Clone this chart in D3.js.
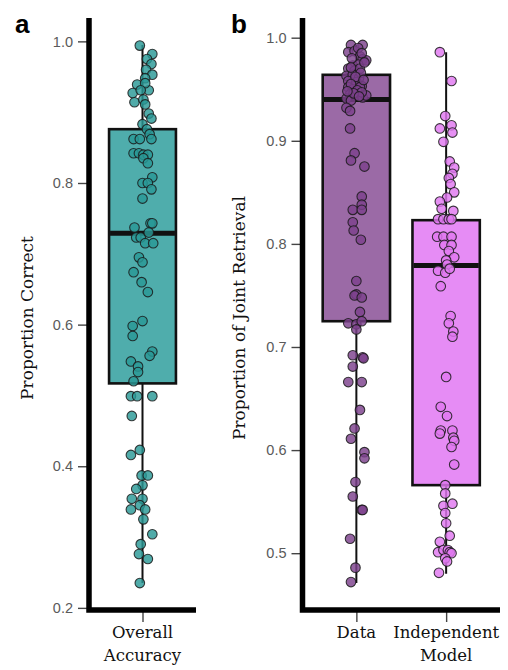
<!DOCTYPE html>
<html>
<head>
<meta charset="utf-8">
<script src="https://cdn.jsdelivr.net/npm/d3@7"></script>
<style>
  body { margin: 0; background: #fff; }
  .tick-label { font-family: "Liberation Sans", Arial, sans-serif; font-size: 14.5px; fill: #5a5a5a; }
  .cat-label { font-family: "DejaVu Serif", serif; font-size: 16.5px; fill: #111; }
  .axis-title { font-family: "DejaVu Serif", serif; font-size: 17px; fill: #111; }
  .panel-letter { font-family: "Liberation Sans", Arial, sans-serif; font-size: 26px; font-weight: bold; }
</style>
</head>
<body>
<div id="chart"></div>
<script>
// panel a: overall accuracy per participant
var accuracyCats = ["Overall\nAccuracy"];
var accuracyTicks = [0.2, 0.4, 0.6, 0.8, 1.0];
var accuracyBox = [[0.235, 0.517, 0.729, 0.876, 0.995]]; // low, q1, median, q3, high
var accuracy = [0.994, 0.982, 0.975, 0.968, 0.960, 0.953, 0.948, 0.931, 0.939, 0.941,
  0.927, 0.914, 0.931, 0.918, 0.911, 0.898, 0.891, 0.883, 0.876, 0.869,
  0.862, 0.862, 0.862, 0.842, 0.842, 0.840, 0.840, 0.835, 0.828, 0.808,
  0.800, 0.800, 0.791, 0.778, 0.737, 0.743, 0.743, 0.723, 0.723, 0.730,
  0.715, 0.715, 0.695, 0.688, 0.674, 0.660, 0.646, 0.605, 0.598, 0.584,
  0.562, 0.556, 0.548, 0.541, 0.533, 0.520, 0.499, 0.499, 0.499, 0.471,
  0.416, 0.423, 0.387, 0.387, 0.373, 0.368, 0.354, 0.354, 0.345, 0.339,
  0.339, 0.325, 0.304, 0.290, 0.276, 0.269, 0.235];
var accuracyJitter = [-0.03, 0.11, 0.05, 0.10, 0.04, 0.11, 0.03, 0.07, -0.06, 0.03,
  -0.11, -0.09, -0.02, 0.01, 0.03, 0.07, 0.10, 0.00, 0.05, 0.08,
  -0.10, -0.03, 0.10, -0.10, -0.04, 0.01, 0.06, 0.01, 0.06, 0.11,
  0.00, 0.06, 0.10, 0.00, -0.09, 0.09, 0.11, -0.07, -0.02, 0.07,
  0.03, 0.12, -0.04, 0.00, -0.10, -0.01, 0.06, 0.00, -0.11, -0.11,
  0.11, 0.08, -0.13, -0.05, -0.05, -0.10, -0.13, -0.06, 0.11, -0.12,
  -0.13, -0.03, -0.01, 0.06, 0.00, -0.07, 0.00, -0.12, -0.03, -0.13,
  0.03, 0.01, 0.11, -0.02, -0.04, 0.06, -0.03];

// panel b: proportion of joint retrieval, data vs independent model
var jointCats = ["Data", "Independent\nModel"];
var jointTicks = [0.5, 0.6, 0.7, 0.8, 0.9, 1.0];
var jointBox = [[0.471, 0.725, 0.940, 0.964, 0.993], [0.480, 0.566, 0.779, 0.823, 0.986]];
var jointData = [0.993, 0.993, 0.986, 0.987, 0.982, 0.979, 0.978, 0.973, 0.974, 0.970,
  0.968, 0.970, 0.963, 0.964, 0.961, 0.958, 0.957, 0.953, 0.952, 0.950,
  0.952, 0.945, 0.944, 0.942, 0.944, 0.941, 0.939, 0.932, 0.929,
  0.990, 0.985, 0.980, 0.976, 0.971, 0.966, 0.962, 0.959, 0.955, 0.949,
  0.947, 0.946, 0.943, 0.948,
  0.912, 0.888, 0.881, 0.875, 0.846, 0.833, 0.838, 0.833, 0.821, 0.813,
  0.804, 0.764, 0.751, 0.750, 0.748, 0.734, 0.723, 0.722, 0.725, 0.717,
  0.692, 0.690, 0.689, 0.681, 0.666, 0.666, 0.639, 0.621, 0.611, 0.598,
  0.592, 0.569, 0.555, 0.542, 0.542, 0.514, 0.486, 0.472];
var jointDataJitter = [-0.06, 0.07, -0.09, -0.02, 0.04, 0.07, 0.11, -0.04, 0.02, -0.09,
  -0.02, 0.04, -0.11, -0.04, 0.03, -0.09, 0.00, 0.06, -0.09, -0.04,
  0.04, -0.07, 0.00, 0.07, 0.11, -0.11, -0.06, -0.11, -0.07,
  0.02, 0.06, -0.05, 0.09, -0.06, 0.05, -0.01, 0.08, -0.06, 0.01,
  0.06, -0.03, 0.03, -0.10,
  -0.07, -0.02, -0.06, 0.09, 0.06, -0.04, 0.06, 0.06, -0.04, -0.03,
  0.05, 0.00, 0.00, -0.02, 0.06, 0.04, -0.09, 0.00, 0.06, 0.00,
  -0.04, 0.07, 0.08, -0.04, -0.09, 0.06, 0.04, -0.02, -0.06, 0.09,
  0.09, -0.01, -0.04, 0.06, 0.07, -0.07, -0.01, -0.06];
var jointModel = [0.986, 0.958, 0.924, 0.912, 0.915, 0.908, 0.899, 0.880, 0.874, 0.868,
  0.864, 0.858, 0.850, 0.845, 0.841, 0.834, 0.832, 0.824, 0.824, 0.824,
  0.824, 0.807, 0.807, 0.807, 0.799, 0.799, 0.793, 0.787, 0.784, 0.780,
  0.774, 0.772, 0.776, 0.759, 0.730, 0.723, 0.715, 0.710, 0.671, 0.642,
  0.633, 0.619, 0.619, 0.616, 0.612, 0.609, 0.603, 0.586, 0.566, 0.558,
  0.546, 0.548, 0.539, 0.529, 0.517, 0.511, 0.501, 0.503, 0.503, 0.501,
  0.500, 0.495, 0.492, 0.481];
var jointModelJitter = [-0.07, 0.06, -0.01, -0.07, 0.06, 0.07, -0.03, 0.04, 0.09, 0.07,
  0.03, 0.05, 0.09, 0.01, -0.07, -0.05, 0.08, -0.09, -0.03, 0.03,
  0.06, -0.10, -0.03, 0.06, -0.02, 0.06, 0.03, 0.09, 0.00, 0.01,
  -0.09, -0.01, 0.04, -0.06, 0.05, 0.03, 0.08, 0.07, 0.00, -0.06,
  0.01, -0.06, 0.07, -0.07, 0.08, 0.09, 0.06, 0.09, -0.01, -0.01,
  -0.03, 0.07, -0.01, 0.00, 0.04, -0.07, -0.09, -0.03, 0.02, 0.04,
  0.06, -0.01, 0.01, -0.08];

const W = 508, H = 670;
var svg = d3.select("#chart")
  .append("svg")
  .attr("width", W)
  .attr("height", H);

drawPanel({
  letter: "a", letterX: 15,
  left: 89, right: 196, top: 18, bottom: 610,
  cats: accuracyCats, ticks: accuracyTicks, box: accuracyBox,
  series: [{values: accuracy, jitter: accuracyJitter}],
  boxFill: ["#4fadac"], dotFill: ["#2a9996"],
  title: "Proportion Correct", titleX: 33
});

drawPanel({
  letter: "b", letterX: 231,
  left: 302.5, right: 500, top: 18, bottom: 610,
  cats: jointCats, ticks: jointTicks, box: jointBox,
  series: [{values: jointData, jitter: jointDataJitter}, {values: jointModel, jitter: jointModelJitter}],
  boxFill: ["#9b6aa6", "#e68cf5"], dotFill: ["#7d418c", "#e078f0"],
  title: "Proportion of Joint Retrieval", titleX: 245
});

function drawPanel(p) {
  var g = svg.append("g");

  // ggplot-like 5% expansion around the whisker range
  var lo = d3.min(p.box, function(d) {return d[0];}),
      hi = d3.max(p.box, function(d) {return d[4];}),
      pad = (hi - lo) * 0.05;
  var y = d3.scaleLinear()
    .domain([lo - pad, hi + pad])
    .range([p.bottom, p.top]);
  var x = d3.scalePoint()
    .domain(p.cats)
    .range([p.left, p.right])
    .padding(0.6);
  var step = p.cats.length > 1 ? x.step() : (p.right - p.left) / 1.2;
  var boxW = step * 0.75;

  // y ticks
  var yAxis = d3.axisLeft(y).tickValues(p.ticks).tickFormat(d3.format(".1f")).tickSize(9).tickPadding(5);
  var ya = g.append("g")
    .attr("transform", "translate(" + (p.left - 2) + ",0)")
    .call(yAxis);
  ya.select(".domain").remove();
  ya.selectAll(".tick line").attr("stroke", "#444").attr("stroke-width", 1.4);
  ya.selectAll(".tick text").attr("class", "tick-label").attr("fill", null);

  // x ticks
  var xAxis = d3.axisBottom(x).tickSize(10).tickFormat("");
  var xa = g.append("g")
    .attr("transform", "translate(0," + (p.bottom + 2) + ")")
    .call(xAxis);
  xa.select(".domain").remove();
  xa.selectAll(".tick line").attr("stroke", "#444").attr("stroke-width", 1.4);

  p.cats.forEach(function(c) {
    var t = g.append("text")
      .attr("class", "cat-label")
      .attr("text-anchor", "middle")
      .attr("x", x(c))
      .attr("y", 638);
    c.split("\n").forEach(function(line, i) {
      t.append("tspan").attr("x", x(c)).attr("dy", i ? 23 : 0).text(line);
    });
  });

  // boxes
  p.cats.forEach(function(c, i) {
    var b = p.box[i], cx = x(c);
    g.append("line")
      .attr("x1", cx).attr("x2", cx)
      .attr("y1", y(b[0])).attr("y2", y(b[4]))
      .attr("stroke", "#111").attr("stroke-width", 2);
    g.append("rect")
      .attr("x", cx - boxW / 2)
      .attr("y", y(b[3]))
      .attr("width", boxW)
      .attr("height", y(b[1]) - y(b[3]))
      .attr("fill", p.boxFill[i])
      .attr("stroke", "#111")
      .attr("stroke-width", 2.6);
    g.append("line")
      .attr("x1", cx - boxW / 2 + 1).attr("x2", cx + boxW / 2 - 1)
      .attr("y1", y(b[2])).attr("y2", y(b[2]))
      .attr("stroke", "#111").attr("stroke-width", 5);
  });

  // jittered points
  p.series.forEach(function(s, i) {
    var cx = x(p.cats[i]);
    g.selectAll(".pt" + i)
      .data(s.values)
      .enter()
      .append("circle")
      .attr("class", "pt" + i)
      .attr("cx", function(d, k) {return cx + s.jitter[k] * step;})
      .attr("cy", function(d) {return y(d);})
      .attr("r", 4.8)
      .attr("fill", p.dotFill[i])
      .attr("fill-opacity", 0.82)
      .attr("stroke", "#1a1a1a")
      .attr("stroke-opacity", 0.85)
      .attr("stroke-width", 1.1);
  });

  // thick axis lines
  g.append("path")
    .attr("d", "M" + p.left + "," + p.top + "V" + p.bottom + "H" + p.right)
    .attr("fill", "none")
    .attr("stroke", "#000")
    .attr("stroke-width", 5.5)
    .attr("stroke-linejoin", "miter");

  g.append("text")
    .attr("class", "axis-title")
    .attr("text-anchor", "middle")
    .attr("transform", "translate(" + p.titleX + "," + ((p.top + p.bottom) / 2 + 4) + ") rotate(-90)")
    .text(p.title);

  g.append("text")
    .attr("class", "panel-letter")
    .attr("x", p.letterX)
    .attr("y", 33)
    .text(p.letter);
}
</script>
</body>
</html>
